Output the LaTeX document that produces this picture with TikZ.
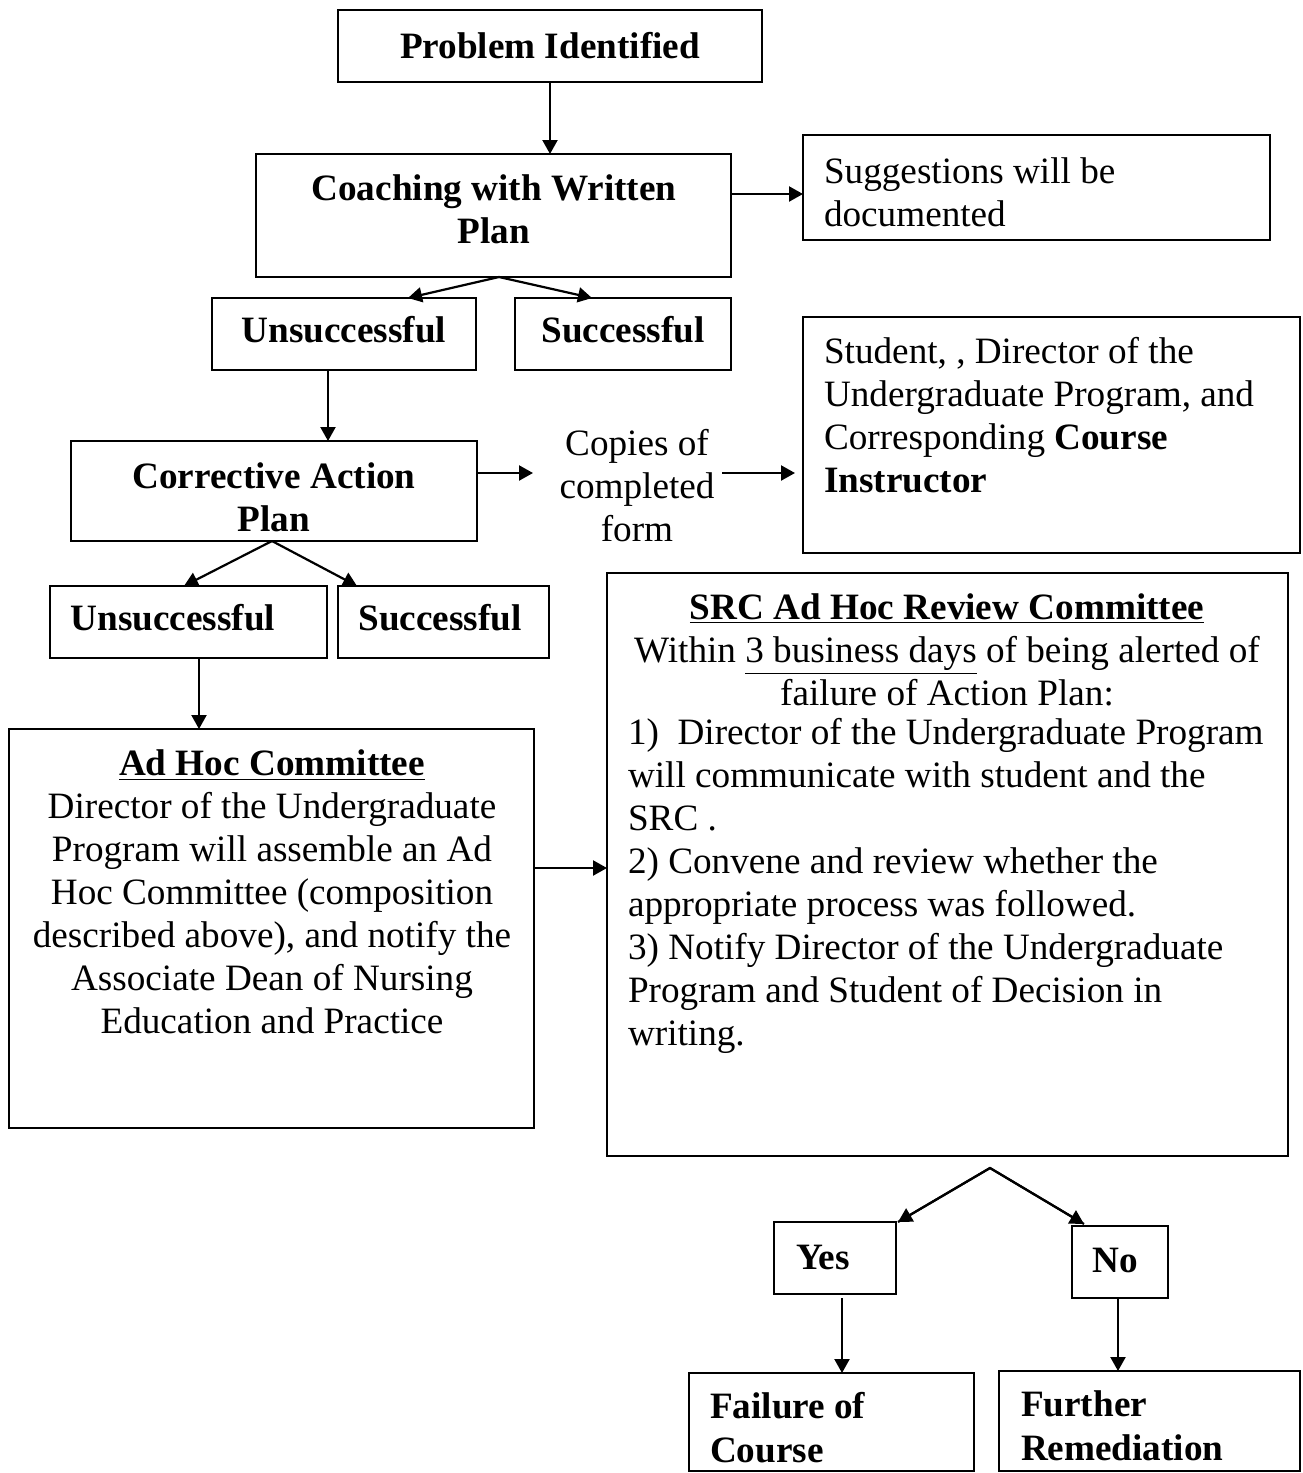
\documentclass[tikz,border=0pt]{standalone}
\usepackage{fontspec}
\setmainfont{Liberation Serif}
\usetikzlibrary{arrows.meta}
\begin{document}
\begin{tikzpicture}[x=0.5pt,y=-0.5pt,
  box/.style={draw, line width=1pt, inner sep=0pt, outer sep=0pt},
  txt/.style={inner sep=0pt, outer sep=0pt, font=\fontsize{18.6pt}{21.5pt}\selectfont},
  arr/.style={line width=1.1pt, -{Triangle[length=7pt,width=7.5pt]}}]
\useasboundingbox (0,0) rectangle (1302,1473);
% boxes
\node[box, minimum width=212pt, minimum height=36pt] (prob) at (550,46) {};
\node[box, minimum width=237.5pt, minimum height=61.5pt] (coach) at (493.5,215.5) {};
\node[box, minimum width=132pt, minimum height=36pt] (uns1) at (344,334) {};
\node[box, minimum width=108pt, minimum height=36pt] (suc1) at (623,334) {};
\node[box, minimum width=233.5pt, minimum height=52.5pt] (sugg) at (1036.5,187.5) {};
\node[box, minimum width=203pt, minimum height=50pt] (corr) at (274,491) {};
\node[box, minimum width=248.5pt, minimum height=118pt] (stud) at (1051.5,435) {};
\node[box, minimum width=138.5pt, minimum height=36pt] (uns2) at (188.5,622) {};
\node[box, minimum width=105.5pt, minimum height=36pt] (suc2) at (443.5,622) {};
\node[box, minimum width=262.5pt, minimum height=199.5pt] (adhoc) at (271.5,928.5) {};
\node[box, minimum width=340.5pt, minimum height=291.5pt] (src) at (947.5,864.5) {};
\node[box, minimum width=61pt, minimum height=36pt] (yes) at (835,1258) {};
\node[box, minimum width=48pt, minimum height=36pt] (no) at (1120,1262) {};
\node[box, minimum width=142.5pt, minimum height=49pt] (fail) at (831.5,1422) {};
\node[box, minimum width=150.5pt, minimum height=50pt] (furth) at (1149.5,1421) {};
% texts
\node[txt, font=\fontsize{18.6pt}{21.5pt}\selectfont\bfseries] (probT) at (550,46) {Problem Identified};
\node[txt, align=center, font=\fontsize{18.6pt}{21.5pt}\selectfont\bfseries] (coachT) at (494,209) {Coaching with Written\\Plan};
\node[txt, font=\fontsize{18.6pt}{21.5pt}\selectfont\bfseries] (uns1T) at (344,330) {Unsuccessful};
\node[txt, font=\fontsize{18.6pt}{21.5pt}\selectfont\bfseries] (suc1T) at (623,330) {Successful};
\node[txt, align=left, anchor=west] (suggT) at (824,192) {Suggestions will be\\documented};
\node[txt, align=center, font=\fontsize{18.6pt}{21.5pt}\selectfont\bfseries] (corrT) at (274,497) {Corrective Action\\Plan};
\node[txt, align=center] (copT) at (637,486) {Copies of\\completed\\form};
\node[txt, align=left, anchor=west] (studT) at (824,415) {Student, , Director of the\\Undergraduate Program, and\\Corresponding \textbf{Course}\\\textbf{Instructor}};
\node[txt, font=\fontsize{18.6pt}{21.5pt}\selectfont\bfseries] (uns2T) at (173,618) {Unsuccessful};
\node[txt, font=\fontsize{18.6pt}{21.5pt}\selectfont\bfseries] (suc2T) at (440,618) {Successful};
\node[txt, align=center] (adhocT) at (272,892) {\textbf{\underline{Ad Hoc Committee}}\\Director of the Undergraduate\\Program will assemble an Ad\\Hoc Committee (composition\\described above), and notify the\\Associate Dean of Nursing\\Education and Practice};
\node[txt, align=center] (srcT) at (947,650) {\textbf{\underline{SRC Ad Hoc Review Committee}}\\Within \underline{3 business days} of being alerted of\\failure of Action Plan:};
\node[txt, align=left, anchor=west] (srcL) at (628,886) {1)\ \ Director of the Undergraduate Program\\will communicate with student and the\\SRC .\\2) Convene and review whether the\\appropriate process was followed.\\3) Notify Director of the Undergraduate\\Program and Student of Decision in\\writing.};
\node[txt, font=\fontsize{18.6pt}{21.5pt}\selectfont\bfseries] (yesT) at (823,1257) {Yes};
\node[txt, font=\fontsize{18.6pt}{21.5pt}\selectfont\bfseries] (noT) at (1115,1260) {No};
\node[txt, align=left, anchor=west, font=\fontsize{18.6pt}{22pt}\selectfont\bfseries] (failT) at (710,1428) {Failure of\\Course};
\node[txt, align=left, anchor=west, font=\fontsize{18.6pt}{22pt}\selectfont\bfseries] (furthT) at (1021,1426) {Further\\Remediation};
% connector points
\coordinate (cfork) at (499,277);
\coordinate (cL) at (408,298);
\coordinate (cR) at (592,298);
\coordinate (u1x) at (328,370);
\coordinate (rfork) at (272,541);
\coordinate (rL) at (184,586);
\coordinate (rR) at (357,586);
\coordinate (u2x) at (199,658);
\coordinate (apex) at (990,1168);
\coordinate (yL) at (898,1222);
\coordinate (nR) at (1084,1224);
\coordinate (yx) at (842,1298);
\coordinate (nx) at (1118,1298);
\coordinate (cpR) at (722,473);
% connectors
\draw[arr] (prob.south) -- (prob.south |- coach.north);
\draw[arr] (cfork) -- (cL);
\draw[arr] (cfork) -- (cR);
\draw[arr] (coach.east |- 0,194) -- (sugg.west |- 0,194);
\draw[arr] (u1x) -- (u1x |- corr.north);
\draw[arr] (rfork) -- (rL);
\draw[arr] (rfork) -- (rR);
\draw[arr] (corr.east |- 0,473) -- (533,473);
\draw[arr] (cpR) -- (795,473);
\draw[arr] (u2x) -- (u2x |- adhoc.north);
\draw[arr] (adhoc.east |- 0,868) -- (src.west |- 0,868);
\draw[line width=1.1pt] (yL) -- (apex) -- (nR);
\draw[arr] (apex) -- (yL);
\draw[arr] (apex) -- (nR);
\draw[arr] (yx) -- (yx |- fail.north);
\draw[arr] (nx) -- (nx |- furth.north);
\end{tikzpicture}
\end{document}
